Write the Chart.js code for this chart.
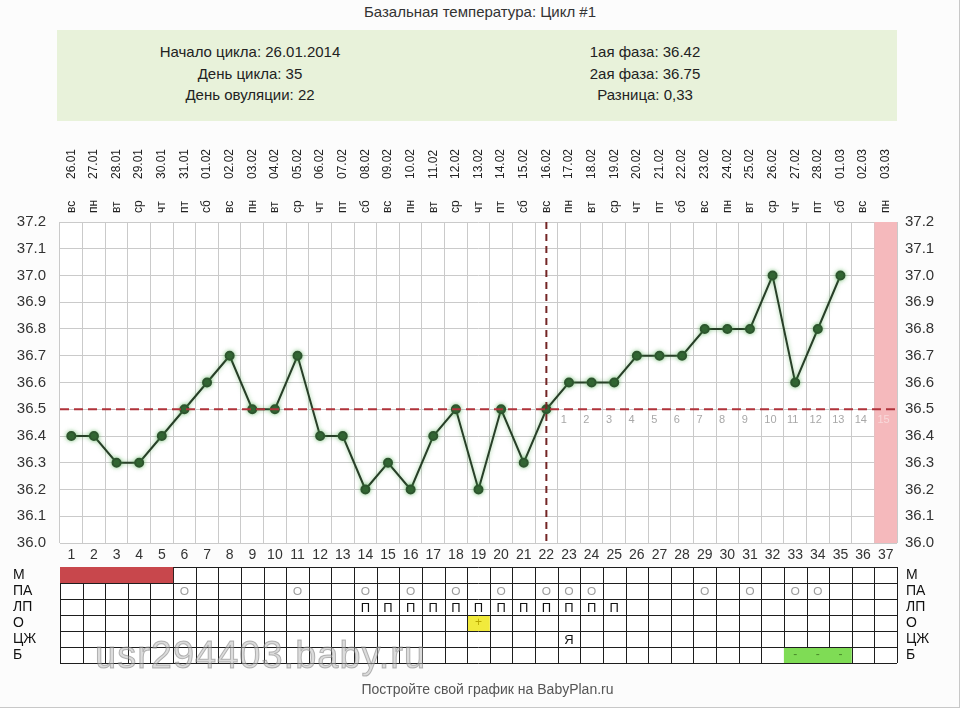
<!DOCTYPE html>
<html>
<head>
<meta charset="utf-8">
<script src="https://cdn.jsdelivr.net/npm/chart.js@4/dist/chart.umd.min.js"></script>
<style>
body { margin: 0; background: #fcfcfc; font-family: "Liberation Sans", Arial, sans-serif; }
#wrap { position: relative; width: 959px; height: 707px; overflow: hidden; border-right: 1px solid #c8c8c8; border-bottom: 1px solid #c8c8c8; }
#judul { position: absolute; top: 3px; left: 0; width: 960px; text-align: center; font-size: 15px; color: #333; }
#info { position: absolute; left: 57px; top: 30px; width: 840px; height: 91px; background: #e8f2da; }
.kol { position: absolute; top: 11px; width: 300px; text-align: center; font-size: 15px; line-height: 21.5px; color: #222; }
#footer { position: absolute; top: 681px; left: 0; width: 975px; text-align: center; font-size: 14px; color: #555; }
#wm { position: absolute; left: 95px; top: 634px; font-size: 38px; color: rgba(185,185,185,0.5); letter-spacing: 1px; -webkit-text-stroke: 1px rgba(120,120,120,0.5); }
canvas { position: absolute; left: 0; top: 0; }
</style>
</head>
<body>
<div id="wrap">
  <div id="judul">Базальная температура: Цикл #1</div>
  <div id="info">
    <div class="kol" style="left:43px">Начало цикла: 26.01.2014<br>День цикла: 35<br>День овуляции: 22</div>
    <div class="kol" style="left:438px">1ая фаза: 36.42<br>2ая фаза: 36.75<br>Разница: 0,33</div>
  </div>
  <canvas id="grafik" width="960" height="708"></canvas>
  <div id="wm">usr294403.baby.ru</div>
  <div id="footer">Постройте свой график на BabyPlan.ru</div>
</div>
<script>
// hari siklus
var hari = ['1','2','3','4','5','6','7','8','9','10','11','12','13','14','15','16','17','18','19','20',
            '21','22','23','24','25','26','27','28','29','30','31','32','33','34','35','36','37'];

// tanggal & hari minggu (atas)
var tanggal = ['26.01','27.01','28.01','29.01','30.01','31.01','01.02','02.02','03.02','04.02','05.02','06.02',
               '07.02','08.02','09.02','10.02','11.02','12.02','13.02','14.02','15.02','16.02','17.02','18.02',
               '19.02','20.02','21.02','22.02','23.02','24.02','25.02','26.02','27.02','28.02','01.03','02.03','03.03'];
var hariMinggu = ['вс','пн','вт','ср','чт','пт','сб','вс','пн','вт','ср','чт','пт','сб','вс','пн','вт','ср','чт',
                  'пт','сб','вс','пн','вт','ср','чт','пт','сб','вс','пн','вт','ср','чт','пт','сб','вс','пн'];

// suhu basal
var suhu = [36.4, 36.4, 36.3, 36.3, 36.4, 36.5, 36.6, 36.7, 36.5, 36.5, 36.7, 36.4, 36.4, 36.2, 36.3, 36.2,
            36.4, 36.5, 36.2, 36.5, 36.3, 36.5, 36.6, 36.6, 36.6, 36.7, 36.7, 36.7, 36.8, 36.8, 36.8, 37.0,
            36.6, 36.8, 37.0, null, null];

var garisTutup = 36.5;   // coverline
var hariOvulasi = 22;
var hariFase2 = ['1','2','3','4','5','6','7','8','9','10','11','12','13','14','15'];
var hariPink = 37;

// tabel bawah
var labelBaris = ['М', 'ПА', 'ЛП', 'О', 'ЦЖ', 'Б'];
var hariMens = [1, 2, 3, 4, 5];
var hariPA = [6, 11, 14, 16, 18, 20, 22, 23, 24, 29, 31, 33, 34];
var hariLP = [14, 15, 16, 17, 18, 19, 20, 21, 22, 23, 24, 25];
var hariTes = [19];
var hariCZ = [23];
var hariB = [33, 34, 35];

var warnaGrid = '#cacaca';

var pluginGambar = {
  id: 'gambar',
  beforeDraw: function(chart) {
    var c = chart.ctx, a = chart.chartArea;
    c.save();
    c.fillStyle = '#ffffff';
    c.fillRect(a.left, a.top, a.right - a.left, a.bottom - a.top);
    c.restore();
  },
  beforeDatasetsDraw: function(chart) {
    var c = chart.ctx, a = chart.chartArea, sx = chart.scales.x;
    var w = (a.right - a.left) / hari.length;
    var x = sx.getPixelForValue(hariPink - 1) - w / 2;
    c.save();
    c.fillStyle = '#f5b9bc';
    c.fillRect(x, a.top, w, a.bottom - a.top);
    c.restore();
    // glow hijau untuk garis
    c.save();
    c.shadowColor = 'rgba(70,170,70,0.55)';
    c.shadowBlur = 4;
  },
  afterDatasetsDraw: function(chart) {
    var c = chart.ctx, a = chart.chartArea, sx = chart.scales.x, sy = chart.scales.y;
    c.restore();
    var w = (a.right - a.left) / hari.length;
    var yc = sy.getPixelForValue(garisTutup);

    // angka fase 2
    c.save();
    c.font = '11px "Liberation Sans", Arial';
    c.textBaseline = 'middle';
    c.textAlign = 'left';
    for (var i = 0; i < hariFase2.length; i++) {
      var idx = hariOvulasi + i;
      c.fillStyle = (idx + 1 == hariPink) ? '#f8d9da' : '#a8a8a8';
      c.fillText(hariFase2[i], sx.getPixelForValue(idx) - w / 2 + 3, yc + 11);
    }
    c.restore();

    // coverline
    c.save();
    c.strokeStyle = '#b0323a';
    c.lineWidth = 2;
    c.setLineDash([9, 5]);
    c.beginPath();
    c.moveTo(a.left, yc);
    c.lineTo(a.right, yc);
    c.stroke();
    // ovulasi
    var xo = sx.getPixelForValue(hariOvulasi - 1);
    c.strokeStyle = '#732525';
    c.setLineDash([7, 5]);
    c.beginPath();
    c.moveTo(xo, a.top);
    c.lineTo(xo, a.bottom);
    c.stroke();
    c.restore();
  },
  afterDraw: function(chart) {
    var c = chart.ctx, a = chart.chartArea, sx = chart.scales.x;
    var w = (a.right - a.left) / hari.length;
    var i;

    // label atas (diputar)
    c.save();
    c.font = '12px "Liberation Sans", Arial';
    c.fillStyle = '#222';
    c.textAlign = 'left';
    c.textBaseline = 'middle';
    for (i = 0; i < hari.length; i++) {
      var x = sx.getPixelForValue(i);
      c.save();
      c.translate(x, 213);
      c.rotate(-Math.PI / 2);
      c.fillText(hariMinggu[i], 0, 0);
      c.restore();
      c.save();
      c.translate(x, 179);
      c.rotate(-Math.PI / 2);
      c.fillText(tanggal[i], 0, 0);
      c.restore();
    }
    c.restore();

    // tabel
    var top = 567, h = 16, nb = labelBaris.length;
    var kiri = a.left, kanan = a.right;
    function xKol(d) { return sx.getPixelForValue(d - 1); }

    c.save();
    c.fillStyle = '#ffffff';
    c.fillRect(kiri, top, kanan - kiri, h * nb);
    c.fillStyle = '#f1ea3c';
    hariTes.forEach(function(d) { c.fillRect(xKol(d) - w / 2, top + 3 * h, w, h); });

    c.strokeStyle = '#1e1e1e';
    c.lineWidth = 1;
    c.beginPath();
    for (i = 0; i <= nb; i++) {
      c.moveTo(kiri, Math.round(top + i * h) + 0.5);
      c.lineTo(kanan, Math.round(top + i * h) + 0.5);
    }
    for (i = 0; i <= hari.length; i++) {
      var xv = Math.round(kiri + i * w) + 0.5;
      c.moveTo(xv, top);
      c.lineTo(xv, top + h * nb);
    }
    c.stroke();

    // menstruasi & nyeri (blok penuh)
    c.fillStyle = '#c8474c';
    c.fillRect(xKol(hariMens[0]) - w / 2, top, w * hariMens.length, h);
    c.fillStyle = '#7fdc55';
    c.fillRect(xKol(hariB[0]) - w / 2, top + 5 * h + 1, w * hariB.length, h - 1);

    c.textAlign = 'center';
    c.textBaseline = 'middle';
    c.fillStyle = '#4a8a2a';
    c.font = '12px "Liberation Sans", Arial';
    hariB.forEach(function(d) { c.fillText('-', xKol(d), top + 5.5 * h); });
    c.fillStyle = '#b8a800';
    hariTes.forEach(function(d) { c.fillText('+', xKol(d), top + 3.5 * h); });

    c.strokeStyle = '#9c9c9c';
    c.lineWidth = 1.2;
    hariPA.forEach(function(d) {
      c.beginPath();
      c.arc(xKol(d), top + 1.5 * h, 3.5, 0, Math.PI * 2);
      c.stroke();
    });

    c.fillStyle = '#111';
    c.font = '13px "Liberation Sans", Arial';
    hariLP.forEach(function(d) { c.fillText('П', xKol(d), top + 2.5 * h + 1); });
    hariCZ.forEach(function(d) { c.fillText('Я', xKol(d), top + 4.5 * h + 1); });

    // label baris
    c.font = '14px "Liberation Sans", Arial';
    c.textAlign = 'left';
    for (i = 0; i < nb; i++) {
      c.fillText(labelBaris[i], 13, top + (i + 0.5) * h);
      c.fillText(labelBaris[i], a.right + 9, top + (i + 0.5) * h);
    }
    c.restore();
  }
};

var ctx = document.getElementById('grafik');

var myChart = new Chart(ctx, {
  type: 'line',
  data: {
    labels: hari,
    datasets: [{
      label: 'БТ',
      data: suhu,
      borderColor: '#283f28',
      borderWidth: 2,
      pointRadius: 4,
      pointBackgroundColor: '#2d552e',
      pointBorderColor: '#2d552e',
      tension: 0,
      yAxisID: 'y'
    }]
  },
  options: {
    responsive: false,
    animation: false,
    events: [],
    layout: { padding: { top: 222, bottom: 140, left: 0, right: 0 } },
    plugins: {
      legend: { display: false },
      tooltip: { enabled: false }
    },
    scales: {
      x: {
        type: 'category',
        offset: true,
        grid: { offset: true, color: warnaGrid, drawTicks: false },
        border: { display: false },
        ticks: { autoSkip: false, maxRotation: 0, padding: 4, color: '#333', font: { size: 14, family: '"Liberation Sans", Arial' } },
        afterFit: function(s) { s.height = 25; }
      },
      y: {
        position: 'left',
        min: 36.0,
        max: 37.2,
        grid: { color: warnaGrid, drawTicks: false },
        border: { display: false },
        ticks: {
          stepSize: 0.1, padding: 14, color: '#333', font: { size: 15, family: '"Liberation Sans", Arial' },
          callback: function(v) { return Number(v).toFixed(1); }
        },
        afterFit: function(s) { s.width = 60; }
      },
      y2: {
        position: 'right',
        min: 36.0,
        max: 37.2,
        grid: { display: false, drawTicks: false },
        border: { display: false },
        ticks: {
          stepSize: 0.1, padding: 8, color: '#333', font: { size: 15, family: '"Liberation Sans", Arial' },
          callback: function(v) { return Number(v).toFixed(1); }
        },
        afterFit: function(s) { s.width = 63; }
      }
    }
  },
  plugins: [pluginGambar]
});
</script>
</body>
</html>
